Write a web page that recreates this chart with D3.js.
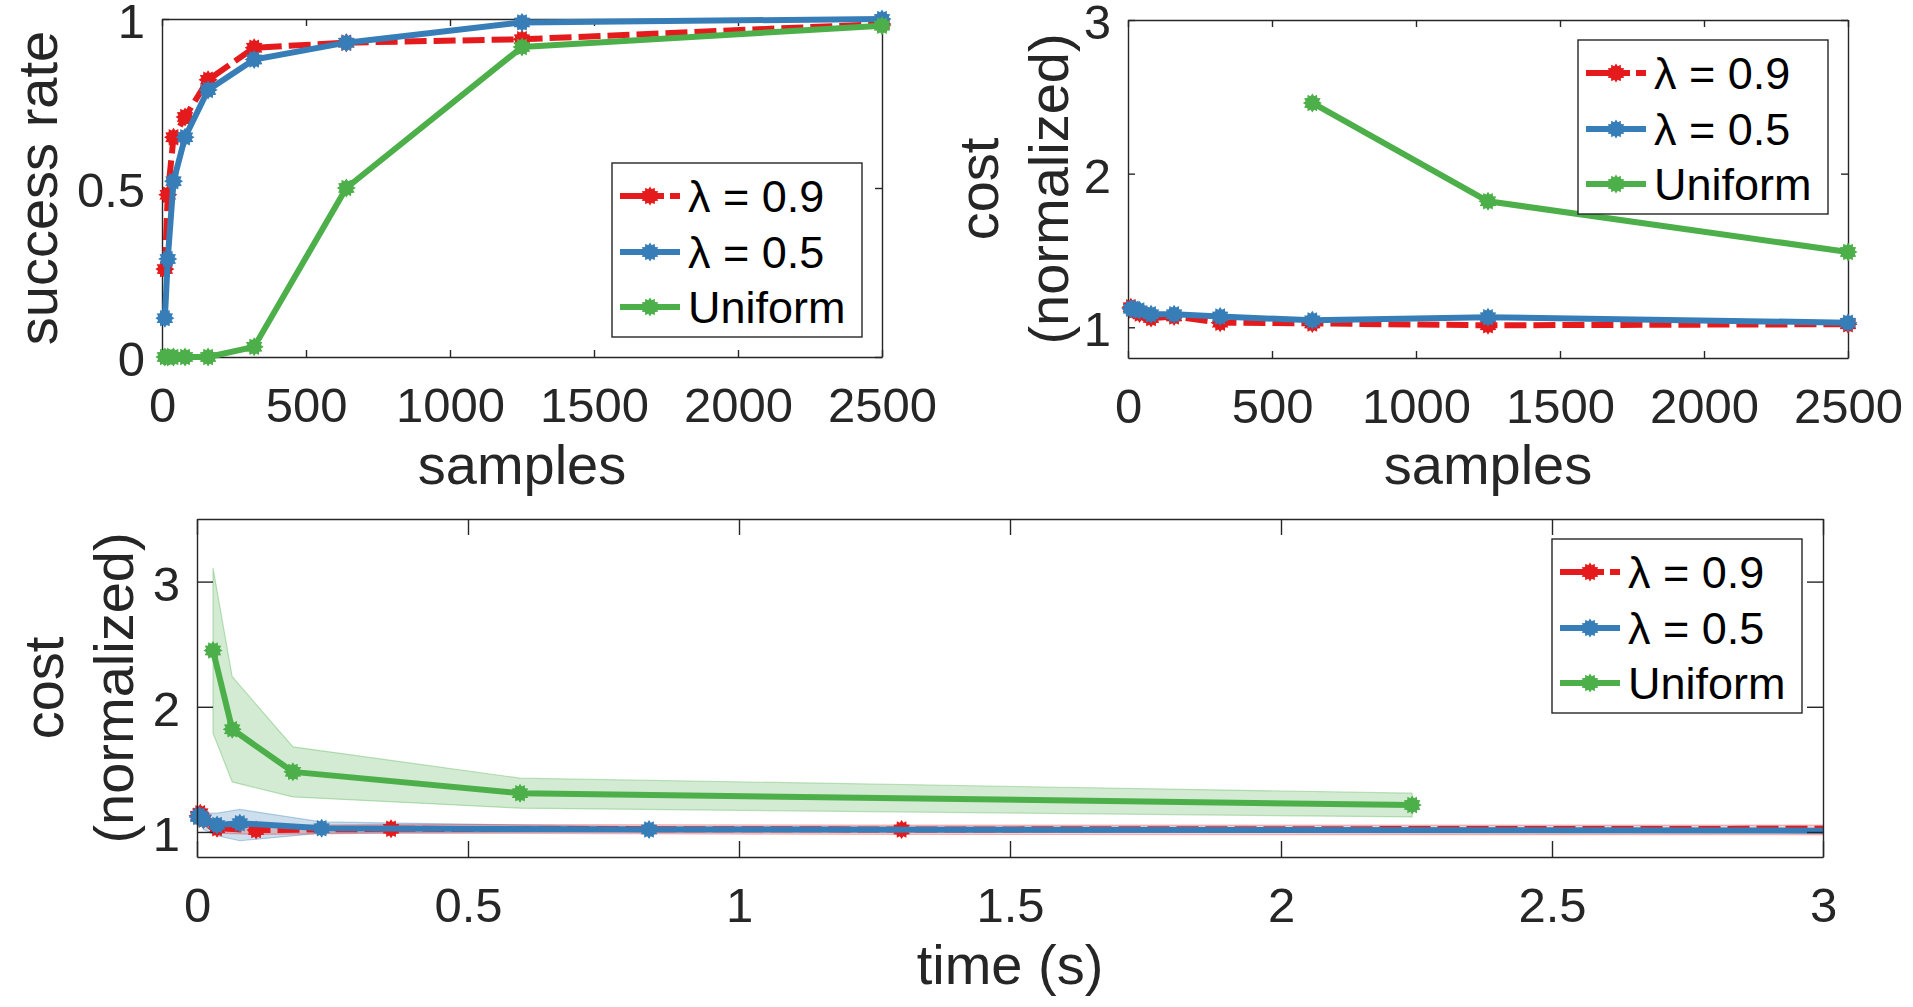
<!DOCTYPE html>
<html>
<head>
<meta charset="utf-8">
<script src="https://cdn.jsdelivr.net/npm/d3@7"></script>
<style>
    body { margin: 0; background: #fff; }
    text { font-family: "Liberation Sans", Arial, Helvetica, sans-serif; }
</style>
</head>
<body>
<svg id="fig" width="1913" height="1007"></svg>
<script>
// ---- data ----
const samples = [10, 20, 40, 80, 160, 320, 640, 1250, 2500];
const successL09 = [0.26, 0.48, 0.65, 0.71, 0.82, 0.915, 0.93, 0.94, 0.985];
const successL05 = [0.115, 0.29, 0.52, 0.65, 0.79, 0.88, 0.93, 0.99, 1.0];
const successUni = [0, 0, 0, 0, 0, 0.03, 0.5, 0.917, 0.98];

const costL09 = [1.13, 1.11, 1.09, 1.06, 1.07, 1.03, 1.025, 1.013, 1.02];
const costL05 = [1.12, 1.12, 1.11, 1.085, 1.085, 1.07, 1.045, 1.065, 1.03];
const costUni = [null, null, null, null, null, null, 2.46, 1.82, 1.49];

// cost vs time (bottom), with spread bands
const timeL09 = [0.002, 0.006, 0.012, 0.037, 0.109, 0.358, 1.3, 4.6, 16];
const timeCostL09 = [1.13, 1.15, 1.1, 1.03, 1.015, 1.025, 1.02, 1.03, 1.03];
const timeLoL09 = [1.09, 1.1, 1.05, 0.99, 0.98, 0.99, 0.98, 0.975, 0.975];
const timeHiL09 = [1.17, 1.19, 1.15, 1.07, 1.05, 1.06, 1.055, 1.055, 1.055];

const timeL05 = [0.002, 0.005, 0.012, 0.037, 0.079, 0.23, 0.834, 3.1, 11];
const timeCostL05 = [1.12, 1.13, 1.1, 1.055, 1.07, 1.03, 1.02, 1.01, 1.01];
const timeLoL05 = [1.08, 1.08, 1.02, 0.97, 0.93, 0.99, 1.0, 0.995, 0.995];
const timeHiL05 = [1.16, 1.17, 1.15, 1.15, 1.18, 1.08, 1.04, 1.025, 1.025];

const timeUni = [0.0295, 0.065, 0.177, 0.596, 2.242];
const timeCostUni = [2.45, 1.82, 1.48, 1.31, 1.215];
const timeLoUni = [1.79, 1.4, 1.28, 1.19, 1.12];
const timeHiUni = [3.11, 2.24, 1.68, 1.43, 1.31];

const sampleTicks = [0, 500, 1000, 1500, 2000, 2500];
const successTicks = [0, 0.5, 1];
const costTicks = [1, 2, 3];
const timeTicks = [0, 0.5, 1, 1.5, 2, 2.5, 3];

const legendLabels = ["\u03bb = 0.9", "\u03bb = 0.5", "Uniform"];

const red = "#e41a1c", blue = "#377eb8", green = "#4daf4a";
const ink = "#262626";

const svg = d3.select("#fig");

// spiky blob like matlab's thick '*' marker
function starPath(rOut, rIn, n) {
    const pts = [];
    for (let i = 0; i < 2 * n; i++) {
        const r = i % 2 == 0 ? rOut : rIn;
        const a = (Math.PI * i) / n;
        pts.push([r * Math.sin(a), -r * Math.cos(a)]);
    }
    return "M" + pts.map(p => p[0].toFixed(2) + "," + p[1].toFixed(2)).join("L") + "Z";
}
const marker = starPath(9.5, 7, 12);

function drawAxes(g, x, y, xTicks, yTicks, tick) {
    const [x0, x1] = x.range();
    const [y0, y1] = y.range();
    const fmt = d3.format("");

    g.append("g")
        .attr("transform", `translate(0,${y0})`)
        .call(d3.axisBottom(x).tickValues(xTicks).tickSizeInner(-tick).tickSizeOuter(0).tickPadding(30).tickFormat(fmt));
    g.append("g")
        .attr("transform", `translate(0,${y1})`)
        .call(d3.axisTop(x).tickValues(xTicks).tickSizeInner(-tick).tickSizeOuter(0).tickFormat(""));
    const left = g.append("g")
        .attr("transform", `translate(${x0},0)`)
        .call(d3.axisLeft(y).tickValues(yTicks).tickSizeInner(-tick).tickSizeOuter(0).tickPadding(17).tickFormat(fmt));
    g.append("g")
        .attr("transform", `translate(${x1},0)`)
        .call(d3.axisRight(y).tickValues(yTicks).tickSizeInner(-tick).tickSizeOuter(0).tickFormat(""));

    g.selectAll(".domain, .tick line").attr("stroke", ink).attr("stroke-width", 1.4);
    g.selectAll(".tick text")
        .attr("fill", ink)
        .style("font-size", "49px")
        .style("font-family", '"Liberation Sans", Arial, sans-serif');
    left.selectAll(".tick text").attr("dy", "0.38em");
}

function drawSeries(g, x, y, xs, ys, color, dash) {
    const pts = xs.map((v, i) => [v, ys[i]]).filter(d => d[1] != null);
    const line = d3.line().x(d => x(d[0])).y(d => y(d[1]));
    g.append("path")
        .attr("d", line(pts))
        .attr("fill", "none")
        .attr("stroke", color)
        .attr("stroke-width", 6)
        .attr("stroke-linejoin", "round")
        .attr("stroke-dasharray", dash ? "22,7" : null);
    g.selectAll(null)
        .data(pts)
        .enter()
        .append("path")
        .attr("d", marker)
        .attr("transform", d => `translate(${x(d[0])},${y(d[1])})`)
        .attr("fill", color);
}

function drawBand(g, x, y, xs, lo, hi, color, alpha) {
    const area = d3.area()
        .x((d, i) => x(xs[i]))
        .y0((d, i) => y(lo[i]))
        .y1((d, i) => y(hi[i]));
    g.append("path")
        .attr("d", area(xs))
        .attr("fill", color)
        .attr("fill-opacity", alpha)
        .attr("stroke", color)
        .attr("stroke-opacity", alpha * 1.4)
        .attr("stroke-width", 1.2);
}

function drawLegend(g, left, top) {
    const w = 250, h = 174;
    const rows = [33, 89, 144];
    const cols = [red, blue, green];
    g.append("rect")
        .attr("x", left).attr("y", top)
        .attr("width", w).attr("height", h)
        .attr("fill", "#fff").attr("stroke", ink).attr("stroke-width", 1.4);
    rows.forEach((r, i) => {
        const yy = top + r;
        g.append("line")
            .attr("x1", left + 8).attr("x2", left + 68)
            .attr("y1", yy).attr("y2", yy)
            .attr("stroke", cols[i]).attr("stroke-width", 6)
            .attr("stroke-dasharray", i == 0 ? "44,6" : null);
        g.append("path")
            .attr("d", marker)
            .attr("transform", `translate(${left + 38},${yy})`)
            .attr("fill", cols[i]);
        g.append("text")
            .attr("x", left + 76).attr("y", yy + 16)
            .attr("fill", "#000")
            .style("font-size", "45px")
            .text(legendLabels[i]);
    });
}

function yLabel(g, lines, xBase, yc) {
    lines.forEach((t, i) => {
        const xx = xBase + i * 70;
        g.append("text")
            .attr("transform", `translate(${xx},${yc}) rotate(-90)`)
            .attr("text-anchor", "middle")
            .attr("fill", ink)
            .style("font-size", "56px")
            .text(t);
    });
}

function xLabel(g, text, xc, yb) {
    g.append("text")
        .attr("x", xc).attr("y", yb)
        .attr("text-anchor", "middle")
        .attr("fill", ink)
        .style("font-size", "56px")
        .text(text);
}

// ---- top left: success rate ----
{
    const g = svg.append("g");
    const x = d3.scaleLinear().domain([0, 2500]).range([162, 882]);
    const y = d3.scaleLinear().domain([0, 1]).range([357, 19]);
    drawAxes(g, x, y, sampleTicks, successTicks, 7);
    drawSeries(g, x, y, samples, successL09, red, true);
    drawSeries(g, x, y, samples, successL05, blue, false);
    drawSeries(g, x, y, samples, successUni, green, false);
    drawLegend(g, 612, 163);
    yLabel(g, ["success rate"], 57, 188);
    xLabel(g, "samples", 522, 484);
}

// ---- top right: cost vs samples ----
{
    const g = svg.append("g");
    const x = d3.scaleLinear().domain([0, 2500]).range([1128, 1848]);
    const y = d3.scaleLinear().domain([0.8, 3]).range([358, 20]);
    drawAxes(g, x, y, sampleTicks, costTicks, 7);
    drawSeries(g, x, y, samples, costL09, red, true);
    drawSeries(g, x, y, samples, costL05, blue, false);
    drawSeries(g, x, y, samples, costUni, green, false);
    drawLegend(g, 1578, 40);
    yLabel(g, ["cost", "(normalized)"], 998, 189);
    xLabel(g, "samples", 1488, 484);
}

// ---- bottom: cost vs time ----
{
    const g = svg.append("g");
    const x = d3.scaleLinear().domain([0, 3]).range([197, 1823]);
    const y = d3.scaleLinear().domain([0.8, 3.5]).range([857, 519]);

    svg.append("defs").append("clipPath").attr("id", "clipBottom")
        .append("rect")
        .attr("x", 150).attr("y", 500)
        .attr("width", 1823 - 150).attr("height", 380);

    const data = g.append("g").attr("clip-path", "url(#clipBottom)");
    drawBand(data, x, y, timeUni, timeLoUni, timeHiUni, green, 0.25);
    drawBand(data, x, y, timeL05, timeLoL05, timeHiL05, blue, 0.25);
    drawBand(data, x, y, timeL09, timeLoL09, timeHiL09, red, 0.2);
    drawSeries(data, x, y, timeL09, timeCostL09, red, true);
    drawSeries(data, x, y, timeL05, timeCostL05, blue, false);
    drawSeries(data, x, y, timeUni, timeCostUni, green, false);

    drawAxes(g, x, y, timeTicks, costTicks, 16);
    drawLegend(g, 1552, 539);
    yLabel(g, ["cost", "(normalized)"], 63, 688);
    xLabel(g, "time (s)", 1010, 984);
}
</script>
</body>
</html>
